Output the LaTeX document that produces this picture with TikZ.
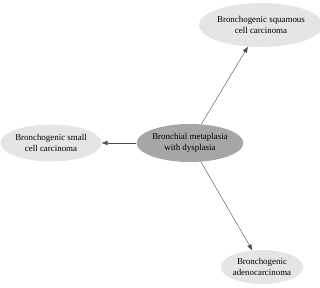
\documentclass[tikz,border=0pt]{standalone}
\usepackage{fontspec}
\setmainfont{Liberation Serif}
\usetikzlibrary{arrows.meta,shapes.geometric}

\begin{document}
\begin{tikzpicture}[x=0.03cm,y=-0.03cm,
	stage/.style={ellipse,fill=black!10,inner sep=0pt,align=center,
		font=\fontsize{7.6}{9.6}\selectfont},
	link/.style={draw=black!70,line width=0.35pt,
		-{Triangle[length=5pt,width=3.6pt]}}]
			\useasboundingbox (0,0) rectangle (320,287);
			\node[stage,fill=black!35,minimum width=2.91cm,minimum height=1.14cm] (dysplasia) at (190,143) {Bronchial metaplasia\\with dysplasia};
			\node[stage,minimum width=3.33cm,minimum height=1.32cm] (squamous) at (261,25) {Bronchogenic squamous\\cell carcinoma};
			\node[stage,minimum width=2.79cm,minimum height=1.11cm] (small) at (51,143) {Bronchogenic small\\cell carcinoma};
			\node[stage,minimum width=2.4cm,minimum height=1.02cm] (adeno) at (262,267) {Bronchogenic\\adenocarcinoma};
			\foreach \t in {squamous,small,adeno}
			\draw[link] (dysplasia) -- (\t);
	\end{tikzpicture}
\end{document}
